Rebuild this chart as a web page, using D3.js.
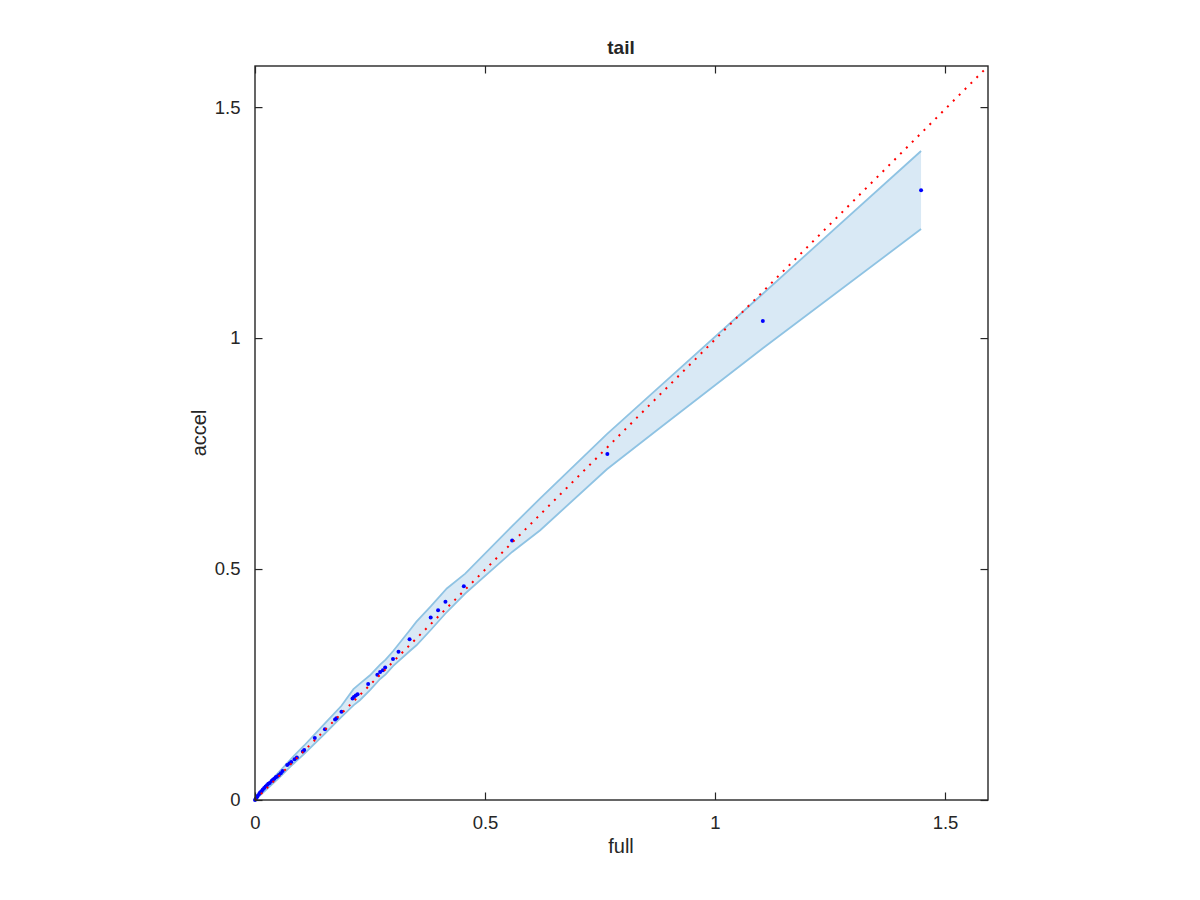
<!DOCTYPE html>
<html>
<head>
<meta charset="utf-8">
<script src="https://cdn.jsdelivr.net/npm/d3@7"></script>
<style>
  html, body { margin: 0; padding: 0; background: #fff; }
  svg { display: block; }
  text { font-family: "Liberation Sans", Arial, Helvetica, sans-serif; fill: #262626; }
</style>
</head>
<body>
<svg id="chart" width="1200" height="900"></svg>
<script>
// ---- data ----
const fullQ  = [0.000,0.002,0.004,0.006,0.009,0.011,0.014,0.017,0.020,0.023,0.026,0.029,0.032,0.036,0.039,0.042,0.045,0.048,0.052,0.056,0.060,0.070,0.075,0.079,0.086,0.091,0.104,0.107,0.130,0.152,0.174,0.177,0.188,0.212,0.215,0.219,0.223,0.246,0.266,0.272,0.278,0.283,0.300,0.312,0.336,0.382,0.398,0.414,0.454,0.559,0.766,1.104,1.448];
const accelQ = [0.000,0.003,0.006,0.009,0.013,0.016,0.019,0.023,0.026,0.029,0.032,0.035,0.037,0.041,0.044,0.046,0.049,0.051,0.054,0.058,0.063,0.076,0.079,0.082,0.088,0.092,0.105,0.108,0.134,0.153,0.174,0.177,0.191,0.220,0.223,0.226,0.229,0.251,0.271,0.277,0.281,0.287,0.305,0.321,0.348,0.395,0.411,0.429,0.463,0.562,0.749,1.037,1.320];

const bandX     = [0, 0.02, 0.05, 0.083, 0.107, 0.152, 0.188, 0.214, 0.228, 0.25, 0.272, 0.284, 0.30, 0.336, 0.351, 0.382, 0.417, 0.457, 0.559, 0.62, 0.765, 0.873, 1.104, 1.448];
const bandUpper = [0.002, 0.026, 0.058, 0.094, 0.118, 0.166, 0.204, 0.240, 0.252, 0.270, 0.293, 0.304, 0.322, 0.367, 0.386, 0.419, 0.458, 0.490, 0.593, 0.653, 0.792, 0.889, 1.096, 1.405];
const bandLower = [0.000, 0.018, 0.046, 0.078, 0.100, 0.144, 0.180, 0.205, 0.216, 0.238, 0.262, 0.272, 0.290, 0.322, 0.335, 0.368, 0.407, 0.447, 0.537, 0.584, 0.716, 0.800, 0.978, 1.236];

const refLine = [0, 1.594];
const xTicks = [0, 0.5, 1, 1.5];
const yTicks = [0, 0.5, 1, 1.5];
const xTickLabels = ["0", "0.5", "1", "1.5"];
const yTickLabels = ["0", "0.5", "1", "1.5"];
const titleText = "tail", xLabelText = "full", yLabelText = "accel";

// ---- layout ----
const L = 255, R = 988, T = 66, B = 800;
const x = d3.scaleLinear().domain([0, 1.5935]).range([L, R]);
const y = d3.scaleLinear().domain([0, 1.589]).range([B, T]);

const svg = d3.select("#chart");
const axisColor = "#262626";

// band
const band = bandX.map((v, i) => ({ x: v, u: bandUpper[i], l: bandLower[i] }));
svg.append("path")
  .datum(band)
  .attr("d", d3.area().x(d => x(d.x)).y0(d => y(d.l)).y1(d => y(d.u)))
  .attr("fill", "#d9e9f5")
  .attr("stroke", "none");
const lineU = d3.line().x(d => x(d.x)).y(d => y(d.u));
const lineL = d3.line().x(d => x(d.x)).y(d => y(d.l));
svg.append("path").datum(band).attr("d", lineU).attr("fill", "none").attr("stroke", "#8fc3e3").attr("stroke-width", 1.8);
svg.append("path").datum(band).attr("d", lineL).attr("fill", "none").attr("stroke", "#8fc3e3").attr("stroke-width", 1.8);

// points
svg.append("g").selectAll("circle")
  .data(fullQ.map((v, i) => [v, accelQ[i]]))
  .join("circle")
  .attr("cx", d => x(d[0]))
  .attr("cy", d => y(d[1]))
  .attr("r", 2)
  .attr("fill", "#0000ff");

// reference line y = x
svg.append("line")
  .attr("x1", x(refLine[0])).attr("y1", y(refLine[0]))
  .attr("x2", x(refLine[1])).attr("y2", y(Math.min(refLine[1], 1.589)))
  .attr("stroke", "#ff0000")
  .attr("stroke-width", 2)
  .attr("stroke-dasharray", "2,6.3");

// axes box
svg.append("rect")
  .attr("x", L).attr("y", T).attr("width", R - L).attr("height", B - T)
  .attr("fill", "none").attr("stroke", axisColor).attr("stroke-width", 1.4);

const tickLen = 7.5;
const axB = svg.append("g").attr("transform", `translate(0,${B})`)
  .call(d3.axisBottom(x).tickValues(xTicks).tickSizeInner(-tickLen).tickSizeOuter(0).tickPadding(tickLen + 8).tickFormat((d, i) => xTickLabels[i]));
const axT = svg.append("g").attr("transform", `translate(0,${T})`)
  .call(d3.axisTop(x).tickValues(xTicks).tickSizeInner(-tickLen).tickSizeOuter(0).tickFormat(""));
const axL = svg.append("g").attr("transform", `translate(${L},0)`)
  .call(d3.axisLeft(y).tickValues(yTicks).tickSizeInner(-tickLen).tickSizeOuter(0).tickPadding(tickLen + 7).tickFormat((d, i) => yTickLabels[i]));
const axR = svg.append("g").attr("transform", `translate(${R},0)`)
  .call(d3.axisRight(y).tickValues(yTicks).tickSizeInner(-tickLen).tickSizeOuter(0).tickFormat(""));

[axB, axT, axL, axR].forEach(g => {
  g.select(".domain").remove();
  g.selectAll(".tick line").attr("stroke", axisColor).attr("stroke-width", 1.2);
  g.selectAll(".tick text")
    .attr("fill", axisColor)
    .style("font-family", '"Liberation Sans", Arial, Helvetica, sans-serif')
    .style("font-size", "18.5px");
});

// titles
svg.append("text").attr("x", 621).attr("y", 54).attr("text-anchor", "middle")
  .style("font-size", "19px").style("font-weight", "bold").text(titleText);
svg.append("text").attr("x", 621).attr("y", 853).attr("text-anchor", "middle")
  .style("font-size", "20px").text(xLabelText);
svg.append("text").attr("transform", "translate(206,433) rotate(-90)").attr("text-anchor", "middle")
  .style("font-size", "20px").text(yLabelText);
</script>
</body>
</html>
